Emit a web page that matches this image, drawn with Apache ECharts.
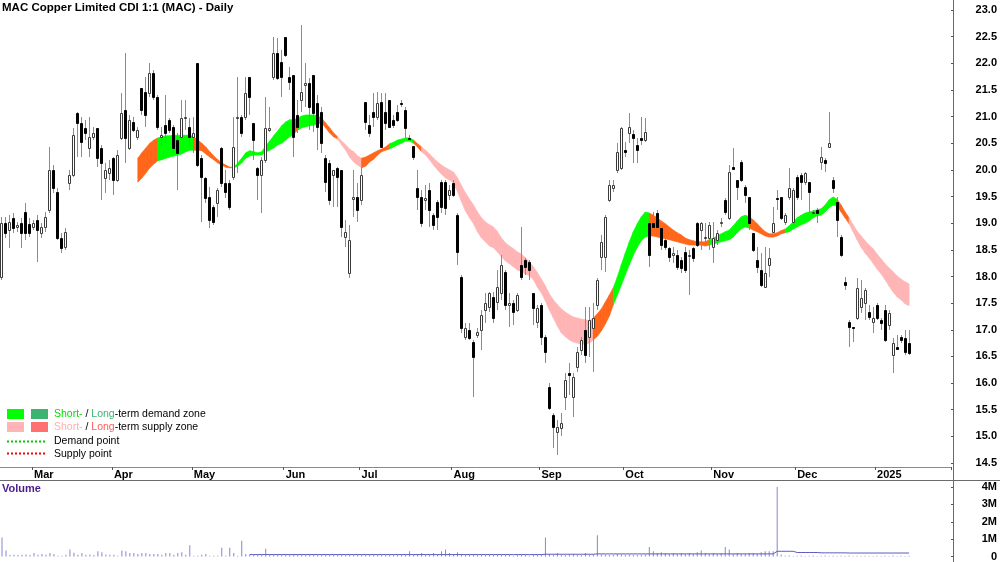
<!DOCTYPE html>
<html>
<head>
<meta charset="utf-8">
<script src="https://cdn.jsdelivr.net/npm/echarts@6/dist/echarts.min.js"></script>
<style>
html,body{margin:0;padding:0;background:#fff;}
#chart{width:1000px;height:562px;}
</style>
</head>
<body>
<div id="chart"></div>
<script>
// ---------- DATA ----------
const chartTitle = 'MAC Copper Limited CDI 1:1 (MAC) - Daily';
const slotCount = 238; // trading-day slots on the time axis (incl. empty right margin)
const monthNames = ['Mar','Apr','May','Jun','Jul','Aug','Sep','Oct','Nov','Dec','2025'];
const monthStart = [8,28,48,71,90,113,135,156,178,199,219];
const priceTicks = [14.5, 23.0, 0.5];   // min, max, step
const volumeTicks = [0, 4, 1];          // millions

const opens = [
17.99,19.00,18.87,19.10,18.93,19.00,19.21,18.99,18.93,19.06,
18.82,18.93,19.25,20.00,19.59,18.72,18.55,19.76,19.91,21.07,
20.88,20.79,20.41,20.62,20.79,20.41,19.85,19.94,20.22,19.81,
20.60,21.12,20.41,20.90,20.62,21.54,21.46,21.44,21.82,21.37,
20.62,20.84,20.94,20.81,20.56,20.62,20.97,20.81,20.62,22.01,
20.22,19.85,19.49,19.30,19.38,20.41,19.76,19.76,19.87,20.97,
20.99,20.99,21.74,20.88,20.04,19.91,20.19,20.75,21.74,22.19,
22.02,22.49,21.74,21.78,21.03,21.31,21.59,21.63,21.78,21.26,
21.09,20.22,20.13,19.91,20.04,20.00,18.74,18.07,19.45,19.49,
19.44,21.27,20.84,21.09,20.99,21.27,21.09,21.31,20.94,21.09,
21.26,21.12,20.60,20.45,19.66,19.49,19.44,19.62,19.15,19.40,
19.77,19.77,19.53,19.76,19.15,17.99,16.87,17.00,16.77,16.90,
17.00,17.37,17.43,17.62,17.52,17.69,18.09,17.47,17.50,17.37,
18.22,18.31,18.27,17.69,17.15,17.47,16.87,15.93,15.40,15.08,
15.16,15.74,16.19,15.74,16.30,16.62,17.00,16.87,17.04,17.47,
18.37,18.37,19.44,19.66,20.00,20.04,20.37,20.69,20.67,20.47,
20.60,20.56,19.00,19.00,19.19,18.91,18.69,18.54,18.40,18.40,
18.31,18.46,18.38,18.54,19.00,18.87,18.72,18.72,18.55,18.69,
19.02,19.44,19.10,20.05,19.81,20.15,19.68,19.49,18.82,18.31,
18.12,17.80,18.22,18.84,19.47,19.49,19.02,19.49,19.02,19.87,
19.91,19.77,19.77,19.19,19.25,20.15,20.19,20.43,19.81,19.40,
18.74,17.90,17.15,17.05,17.22,17.43,17.50,17.33,17.15,17.47,
17.19,17.37,17.09,16.53,16.68,16.87,16.85,16.75];

const closes = [
19.00,18.82,19.02,18.91,18.97,18.82,18.82,18.82,19.00,18.87,
18.93,19.12,20.00,19.66,18.72,18.54,18.84,19.91,20.65,20.88,
20.53,20.69,20.62,20.69,20.22,20.13,20.00,20.04,19.81,20.28,
21.07,20.60,20.94,20.75,20.75,21.12,21.03,21.82,21.37,20.81,
20.65,20.69,20.75,20.41,20.32,20.97,20.99,20.62,20.69,20.09,
19.87,19.47,19.06,19.02,19.62,19.76,19.59,19.30,20.43,20.99,
20.69,21.44,21.37,20.56,19.91,20.19,20.79,20.79,22.19,21.72,
21.74,22.16,21.65,20.62,20.81,21.46,21.63,21.18,21.07,20.81,
20.50,19.77,19.44,20.00,19.87,18.93,18.84,18.69,19.49,19.25,
19.91,20.90,20.69,20.99,21.26,20.43,20.88,20.81,20.84,20.94,
21.25,20.79,20.58,20.24,19.49,19.00,19.47,19.25,18.97,19.12,
19.30,19.28,19.62,19.53,18.46,17.04,17.04,16.85,16.49,16.96,
17.28,17.50,17.69,17.22,17.80,18.22,17.47,17.50,17.33,17.65,
17.99,18.18,18.12,17.41,17.41,16.87,16.59,15.53,15.18,15.18,
15.25,16.06,16.15,16.11,16.59,16.81,16.53,17.19,17.22,17.94,
18.65,19.12,19.72,19.72,20.34,20.79,20.34,20.81,20.60,20.37,
20.56,20.71,18.40,18.93,18.93,18.59,18.55,18.37,18.44,18.18,
18.16,18.12,18.40,18.35,18.59,19.00,18.74,18.97,18.72,18.82,
19.03,19.21,19.96,20.02,19.68,19.81,19.53,19.00,18.50,18.18,
17.84,18.07,18.35,19.00,19.45,19.10,19.15,19.66,19.62,19.49,
19.77,19.94,19.59,19.21,19.19,20.24,20.13,20.50,19.66,19.06,
18.40,17.84,17.05,17.04,17.79,17.60,17.75,17.24,17.22,17.22,
17.13,16.81,17.32,16.75,16.64,16.81,16.59,16.57];

const highs = [
19.12,19.12,19.15,19.19,19.02,19.10,19.38,19.10,19.06,19.15,
19.00,19.21,20.43,20.09,19.66,18.82,18.91,20.00,20.79,21.09,
20.99,20.94,20.99,20.81,20.79,20.47,20.13,20.19,20.24,20.37,
21.44,22.19,21.03,20.99,20.81,21.54,21.74,22.01,21.87,21.41,
20.81,21.41,20.97,20.84,20.69,21.31,21.31,20.97,20.99,22.01,
20.28,19.87,19.68,19.34,19.66,20.43,20.00,19.81,20.99,21.74,
21.03,21.74,21.74,20.88,20.05,20.24,21.37,21.18,22.49,22.47,
22.25,22.49,21.93,21.78,21.31,22.72,22.01,21.72,21.78,21.41,
21.18,20.28,20.19,20.00,20.05,20.00,19.06,18.97,20.00,19.76,
20.05,21.27,21.03,21.44,21.46,21.44,21.44,21.31,21.03,21.22,
21.31,21.18,20.65,20.45,20.00,19.62,19.72,19.76,19.19,19.44,
19.81,19.81,19.72,19.81,19.19,18.03,17.13,17.13,16.81,17.04,
17.37,17.69,17.71,17.71,18.12,18.40,18.12,17.69,17.56,17.69,
18.93,18.35,18.31,17.69,17.47,17.50,16.90,16.00,15.44,15.31,
15.44,16.19,16.38,16.19,16.68,16.87,17.43,17.43,17.50,17.97,
18.78,19.15,19.81,19.81,20.50,20.81,20.52,21.07,20.75,20.60,
20.99,20.97,19.19,19.21,19.25,18.93,18.74,18.55,18.55,18.50,
18.37,18.55,18.50,18.55,19.02,19.02,19.00,19.02,19.02,18.87,
19.10,19.47,20.09,20.41,19.81,20.19,19.72,19.49,18.82,18.55,
18.44,18.55,18.54,19.30,19.62,19.49,19.19,20.04,19.66,19.91,
19.94,19.96,19.77,19.25,19.28,20.43,20.22,21.09,19.87,19.49,
18.78,17.99,17.19,17.05,17.97,17.94,17.79,17.47,17.43,17.50,
17.22,17.47,17.37,16.85,16.90,16.90,17.00,17.00];

const lows = [
17.94,18.72,18.54,18.82,18.84,18.54,18.69,18.74,18.87,18.27,
18.72,18.84,19.19,19.57,18.69,18.44,18.50,19.62,19.87,20.24,
20.24,20.56,20.24,20.56,20.05,19.44,19.57,19.81,19.53,19.77,
20.56,20.13,20.37,20.71,20.56,21.03,20.81,21.37,21.31,20.75,
20.43,20.50,20.69,20.32,19.62,20.56,20.75,20.43,20.32,20.05,
19.02,19.38,18.91,18.97,19.12,19.68,19.47,19.25,19.81,19.94,
20.62,20.94,21.03,20.19,19.44,19.19,20.13,20.71,21.69,21.69,
21.37,22.12,21.50,20.24,20.69,21.09,21.18,20.75,20.71,20.37,
20.32,19.59,19.34,19.30,19.30,18.74,18.55,17.97,19.12,19.02,
19.34,20.75,20.62,20.81,20.94,20.41,20.75,20.79,20.79,20.90,
21.18,20.60,20.54,20.19,19.25,18.93,19.25,18.93,18.87,18.87,
19.19,19.15,19.44,19.49,18.22,16.94,16.81,16.81,15.74,16.85,
16.62,17.13,17.33,17.13,17.37,17.56,17.37,17.05,17.09,17.33,
17.94,18.03,17.94,17.09,17.04,16.72,16.38,15.50,14.78,14.65,
15.00,15.50,15.78,15.37,16.20,16.53,16.38,16.49,16.21,17.37,
18.12,18.09,19.40,19.59,19.94,20.00,20.24,20.50,20.13,20.13,
20.47,20.53,18.18,18.78,18.74,18.50,18.50,18.27,18.25,18.12,
18.07,18.07,17.65,18.27,18.55,18.50,18.59,18.50,18.25,18.59,
18.93,19.15,19.06,20.00,19.44,19.77,19.38,18.87,18.46,18.07,
17.80,17.79,17.99,18.84,19.25,19.06,18.97,19.44,18.97,19.44,
19.44,19.72,19.19,19.15,19.00,20.00,19.96,20.43,19.57,18.74,
18.37,17.75,16.68,16.77,17.19,17.32,17.19,17.19,16.94,17.19,
17.00,16.77,17.00,16.19,16.62,16.75,16.53,16.53];

// volume, millions of shares
const volumes = [
1.10,0.35,0.08,0.10,0.08,0.10,0.12,0.08,0.20,0.10,
0.15,0.10,0.20,0.15,0.05,0.05,0.10,0.40,0.22,0.10,
0.20,0.10,0.12,0.08,0.30,0.25,0.12,0.10,0.10,0.05,
0.35,0.30,0.20,0.20,0.15,0.20,0.20,0.15,0.15,0.15,
0.10,0.20,0.20,0.10,0.20,0.25,0.10,0.65,0.05,0.05,
0.10,0.15,0.05,0.05,0.05,0.50,0.05,0.50,0.20,0.05,
0.90,0.15,0.10,0.10,0.10,0.08,0.45,0.10,0.10,0.12,
0.10,0.12,0.08,0.15,0.10,0.12,0.10,0.10,0.15,0.10,
0.12,0.10,0.08,0.10,0.10,0.12,0.10,0.08,0.10,0.10,
0.10,0.08,0.10,0.12,0.10,0.10,0.08,0.10,0.10,0.10,
0.12,0.10,0.30,0.10,0.15,0.20,0.12,0.10,0.20,0.12,
0.30,0.40,0.20,0.15,0.25,0.15,0.12,0.10,0.15,0.10,
0.10,0.08,0.10,0.08,0.10,0.10,0.08,0.10,0.05,0.08,
0.10,0.08,0.05,0.10,0.08,0.10,1.10,0.15,0.12,0.20,
0.10,0.08,0.12,0.15,0.10,0.08,0.20,0.10,0.12,1.22,
0.12,0.10,0.08,0.10,0.15,0.12,0.10,0.12,0.10,0.08,
0.10,0.12,0.55,0.30,0.20,0.25,0.20,0.15,0.20,0.15,
0.20,0.15,0.20,0.15,0.25,0.35,0.20,0.15,0.20,0.15,
0.20,0.55,0.40,0.15,0.20,0.15,0.15,0.20,0.20,0.15,
0.25,0.30,0.30,0.30,4.00,0.10,0.04,0.06,0.03,0.05,
0.06,0.03,0.05,0.06,0.03,0.05,0.06,0.03,0.05,0.03,
0.05,0.03,0.06,0.03,0.05,0.03,0.05,0.03,0.03,0.05,
0.03,0.05,0.03,0.06,0.03,0.05,0.03,0.05];

// volume average line (millions), starts at index 62
const volAvgStart = 62;
const volAvg = [
0.11,0.11,0.11,0.11,0.11,0.11,0.11,0.11,0.11,0.11,
0.11,0.11,0.11,0.11,0.11,0.11,0.11,0.11,0.11,0.11,
0.11,0.11,0.11,0.11,0.11,0.11,0.11,0.11,0.11,0.11,
0.11,0.11,0.11,0.11,0.11,0.11,0.11,0.11,0.11,0.11,
0.11,0.11,0.11,0.11,0.11,0.11,0.11,0.11,0.11,0.11,
0.11,0.11,0.11,0.11,0.11,0.11,0.11,0.11,0.11,0.11,
0.11,0.11,0.11,0.11,0.11,0.11,0.11,0.11,0.11,0.11,
0.11,0.11,0.11,0.11,0.13,0.13,0.13,0.13,0.13,0.13,
0.13,0.13,0.13,0.13,0.13,0.13,0.13,0.15,0.15,0.15,
0.15,0.15,0.15,0.15,0.15,0.15,0.15,0.15,0.15,0.15,
0.15,0.15,0.15,0.15,0.15,0.15,0.15,0.15,0.15,0.15,
0.15,0.15,0.15,0.15,0.15,0.15,0.15,0.15,0.15,0.15,
0.15,0.15,0.15,0.15,0.15,0.15,0.15,0.15,0.15,0.15,
0.15,0.15,0.30,0.30,0.30,0.30,0.30,0.23,0.23,0.23,
0.23,0.23,0.23,0.21,0.21,0.21,0.21,0.21,0.21,0.21,
0.20,0.20,0.20,0.20,0.20,0.20,0.20,0.20,0.20,0.20,
0.20,0.20,0.20,0.20,0.20,0.20];

// zone band (upper / lower edge, price), starts at index 34
const bandStart = 34;
const bandUpper = [
20.22,20.32,20.41,20.50,20.56,20.60,20.62,20.64,20.64,20.65,
20.65,20.65,20.65,20.65,20.62,20.56,20.50,20.43,20.34,20.26,
20.19,20.13,20.09,20.05,20.05,20.13,20.22,20.32,20.36,20.34,
20.32,20.34,20.45,20.54,20.64,20.73,20.83,20.90,20.94,20.94,
20.97,21.01,21.03,21.03,21.03,21.01,20.97,20.88,20.79,20.69,
20.62,20.54,20.47,20.39,20.34,20.26,20.22,20.24,20.28,20.32,
20.36,20.39,20.43,20.49,20.52,20.56,20.58,20.60,20.60,20.56,
20.49,20.43,20.37,20.30,20.22,20.15,20.09,20.04,20.00,19.96,
19.85,19.70,19.57,19.45,19.34,19.21,19.10,19.02,18.97,18.93,
18.84,18.72,18.63,18.57,18.52,18.46,18.42,18.35,18.27,18.18,
18.07,17.95,17.82,17.67,17.56,17.47,17.39,17.33,17.28,17.24,
17.22,17.20,17.19,17.17,17.22,17.30,17.39,17.52,17.65,17.79,
17.99,18.22,18.44,18.65,18.84,18.99,19.12,19.21,19.19,19.15,
19.10,19.04,18.99,18.93,18.87,18.82,18.78,18.72,18.69,18.67,
18.65,18.65,18.65,18.69,18.72,18.76,18.80,18.84,18.87,18.95,
19.04,19.12,19.15,19.12,19.06,18.99,18.91,18.84,18.80,18.80,
18.82,18.86,18.89,18.95,19.02,19.10,19.15,19.19,19.21,19.23,
19.25,19.27,19.34,19.44,19.49,19.45,19.34,19.21,19.10,18.97,
18.85,18.76,18.67,18.59,18.52,18.42,18.33,18.24,18.16,18.09,
18.01,17.95,17.90,17.86];
const bandLower = [
19.77,19.85,19.94,20.04,20.11,20.17,20.19,20.22,20.24,20.26,
20.28,20.30,20.34,20.37,20.37,20.37,20.36,20.30,20.24,20.19,
20.13,20.09,20.05,20.04,20.04,20.07,20.13,20.22,20.26,20.28,
20.28,20.28,20.34,20.37,20.41,20.47,20.50,20.56,20.62,20.67,
20.75,20.79,20.81,20.83,20.84,20.86,20.88,20.79,20.69,20.62,
20.58,20.47,20.37,20.24,20.15,20.09,20.04,20.07,20.15,20.20,
20.28,20.34,20.37,20.39,20.43,20.47,20.50,20.54,20.54,20.50,
20.43,20.34,20.28,20.19,20.09,20.00,19.92,19.85,19.81,19.76,
19.59,19.40,19.23,19.10,18.99,18.84,18.72,18.65,18.57,18.54,
18.46,18.37,18.29,18.24,18.18,18.12,18.09,18.05,18.01,17.94,
17.80,17.69,17.54,17.37,17.22,17.07,16.94,16.87,16.81,16.77,
16.75,16.73,16.73,16.75,16.81,16.88,16.98,17.11,17.26,17.47,
17.65,17.84,18.03,18.22,18.40,18.55,18.67,18.74,18.76,18.76,
18.74,18.72,18.71,18.69,18.67,18.65,18.63,18.61,18.59,18.59,
18.59,18.59,18.57,18.59,18.61,18.63,18.65,18.67,18.69,18.74,
18.82,18.89,18.93,18.91,18.87,18.84,18.80,18.76,18.74,18.74,
18.76,18.80,18.82,18.84,18.89,18.93,18.97,19.00,19.04,19.10,
19.14,19.15,19.21,19.29,19.34,19.32,19.21,19.10,18.99,18.84,
18.69,18.55,18.44,18.35,18.25,18.14,18.05,17.94,17.82,17.71,
17.62,17.56,17.49,17.45];
// zone type per stretch of the band: [fromIndex, toIndex, zone]
const zoneRuns = [
[34,39,'O'],[40,48,'G'],[49,58,'O'],[59,73,'G'],[74,74,'O'],[75,80,'G'],
[81,84,'O'],[85,90,'P'],[91,97,'O'],[98,103,'G'],[104,105,'O'],[106,148,'P'],
[149,153,'O'],[154,162,'G'],[163,177,'O'],[178,187,'G'],[188,196,'O'],
[197,209,'G'],[210,212,'O'],[213,227,'P']];

// ---------- STYLE ----------
const FONT = '"Liberation Sans", Arial, sans-serif';
const zoneColor = {G:'#00ff00', O:'#ff661a', P:'#ffb5b5'};
function zoneAt(i){
  for (const r of zoneRuns) if (i >= r[0] && i <= r[1]) return r[2];
  return 'P';
}

const categories = Array.from({length: slotCount}, (_, i) => String(i));
const candleData = opens.map((o, i) => [i, o, closes[i], lows[i], highs[i]]);
const bandData = bandUpper.map((u, k) => [bandStart + k, u, bandLower[k]]);
const volAvgData = categories.map((_, i) => {
  const k = i - volAvgStart;
  return (k >= 0 && k < volAvg.length) ? volAvg[k] : null;
});

function renderBand(params, api) {
  const k = params.dataIndex;
  if (k === 0) return null;
  const i = bandStart + k;
  const p0 = api.coord([i - 1, bandUpper[k - 1]]);
  const p1 = api.coord([i, bandUpper[k]]);
  const p2 = api.coord([i, bandLower[k]]);
  const p3 = api.coord([i - 1, bandLower[k - 1]]);
  const col = zoneColor[zoneAt(i)];
  return {type: 'polygon', shape: {points: [p0, p1, p2, p3]},
          style: {fill: col, stroke: col, lineWidth: 0.7}};
}

function renderCandle(params, api) {
  const i = api.value(0), o = api.value(1), c = api.value(2), l = api.value(3), h = api.value(4);
  const po = api.coord([i, o]), pc = api.coord([i, c]);
  const ph = api.coord([i, Math.max(h, o, c)]), pl = api.coord([i, Math.min(l, o, c)]);
  const x = Math.round(po[0] - 0.5);
  const top = Math.round(Math.min(po[1], pc[1]));
  const bot = Math.round(Math.max(po[1], pc[1]));
  const up = c > o;
  return {type: 'group', children: [
    {type: 'line', shape: {x1: x + 0.5, y1: Math.round(ph[1]), x2: x + 0.5, y2: Math.round(pl[1])},
     style: {stroke: '#8c8c8c', lineWidth: 1}},
    {type: 'rect', shape: {x: x - 0.5, y: top + 0.5, width: 2, height: Math.max(bot - top, 1)},
     style: {fill: up ? '#ffffff' : '#000000', stroke: up ? '#3a3a3a' : '#000000', lineWidth: 1}}
  ]};
}

const chart = echarts.init(document.getElementById('chart'), null, {renderer: 'canvas'});
const labelStyle = {fontFamily: FONT, fontSize: 11, fontWeight: 'bold', color: '#000'};

chart.setOption({
  animation: false,
  backgroundColor: '#ffffff',
  grid: [
    {left: 0, right: 47, top: 10, height: 453},
    {left: 0, right: 47, top: 487, height: 70}
  ],
  xAxis: [
    {type: 'category', gridIndex: 0, data: categories, boundaryGap: true, offset: 4,
     axisLine: {show: true, lineStyle: {color: '#8a8a8a', width: 1}},
     axisTick: {show: true, length: 3, interval: (idx) => monthStart.includes(idx),
                lineStyle: {color: '#555'}},
     axisLabel: Object.assign({show: true, align: 'left', margin: 2,
                interval: (idx) => monthStart.includes(idx),
                formatter: (v, idx) => { const m = monthStart.indexOf(idx); return m >= 0 ? monthNames[m] : ''; }},
                labelStyle),
     splitLine: {show: false}},
    {type: 'category', gridIndex: 1, data: categories, boundaryGap: true,
     axisLine: {show: false}, axisTick: {show: false}, axisLabel: {show: false}, splitLine: {show: false}}
  ],
  yAxis: [
    {type: 'value', gridIndex: 0, position: 'right', min: priceTicks[0], max: priceTicks[1], interval: priceTicks[2],
     axisLine: {show: false},
     axisTick: {show: true, length: 3, lineStyle: {color: '#555'}},
     axisLabel: Object.assign({align: 'right', margin: 46, formatter: (v) => v.toFixed(1)}, labelStyle),
     splitLine: {show: false}},
    {type: 'value', gridIndex: 1, position: 'right', min: volumeTicks[0], max: volumeTicks[1], interval: volumeTicks[2],
     axisLine: {show: false},
     axisTick: {show: true, length: 3, lineStyle: {color: '#555'}},
     axisLabel: Object.assign({align: 'right', margin: 46, formatter: (v) => v === 0 ? '0' : v + 'M'}, labelStyle),
     splitLine: {show: false}}
  ],
  series: [
    {name: 'Zone', type: 'custom', xAxisIndex: 0, yAxisIndex: 0, data: bandData,
     encode: {x: 0, y: [1, 2]}, renderItem: renderBand, z: 1, silent: true},
    {name: 'Price', type: 'custom', xAxisIndex: 0, yAxisIndex: 0, data: candleData,
     encode: {x: 0, y: [1, 2, 3, 4]}, renderItem: renderCandle, z: 3, silent: true},
    {name: 'Volume', type: 'bar', xAxisIndex: 1, yAxisIndex: 1, data: volumes,
     barWidth: 1, itemStyle: {color: '#8585d6'}, z: 2, silent: true},
    {name: 'Volume average', type: 'line', xAxisIndex: 1, yAxisIndex: 1, data: volAvgData,
     showSymbol: false, symbol: 'none', lineStyle: {color: '#5b5bbd', width: 1}, z: 3, silent: true}
  ],
  graphic: [
    {type: 'line', shape: {x1: 953.5, y1: 0, x2: 953.5, y2: 562}, style: {stroke: '#6a6a6a', lineWidth: 1}, z: 10},
    {type: 'line', shape: {x1: 0, y1: 480.5, x2: 1000, y2: 480.5}, style: {stroke: '#6a6a6a', lineWidth: 1}, z: 10},
    {type: 'text', left: 2, top: 2, style: {text: chartTitle, font: 'bold 11.5px ' + FONT, fill: '#000'}, z: 10},
    {type: 'text', left: 2, top: 483, style: {text: 'Volume', font: 'bold 11px ' + FONT, fill: '#4b1c8c'}, z: 10},
    // zone key
    {type: 'rect', shape: {x: 7, y: 409, width: 17, height: 10}, style: {fill: '#00ff00'}, z: 10},
    {type: 'rect', shape: {x: 31, y: 409, width: 17, height: 10}, style: {fill: '#3cb371'}, z: 10},
    {type: 'rect', shape: {x: 7, y: 422, width: 17, height: 10}, style: {fill: '#ffb5b5'}, z: 10},
    {type: 'rect', shape: {x: 31, y: 422, width: 17, height: 10}, style: {fill: '#ff7070'}, z: 10},
    {type: 'line', shape: {x1: 7, y1: 441.5, x2: 46, y2: 441.5}, style: {stroke: '#00cc00', lineWidth: 2, lineDash: [2, 2]}, z: 10},
    {type: 'line', shape: {x1: 7, y1: 453.5, x2: 46, y2: 453.5}, style: {stroke: '#ff0000', lineWidth: 2, lineDash: [2, 2]}, z: 10},
    {type: 'text', left: 54, top: 409, z: 10, style: {
      text: '{g|Short-} / {dg|Long}-term demand zone', font: '10.5px ' + FONT, fill: '#000',
      rich: {g: {fill: '#00dd00', font: '10.5px ' + FONT}, dg: {fill: '#3cb371', font: '10.5px ' + FONT}}}},
    {type: 'text', left: 54, top: 422, z: 10, style: {
      text: '{p|Short-} / {r|Long}-term supply zone', font: '10.5px ' + FONT, fill: '#000',
      rich: {p: {fill: '#ffb0b0', font: '10.5px ' + FONT}, r: {fill: '#ff5a5a', font: '10.5px ' + FONT}}}},
    {type: 'text', left: 54, top: 436, z: 10, style: {text: 'Demand point', font: '10.5px ' + FONT, fill: '#000'}},
    {type: 'text', left: 54, top: 449, z: 10, style: {text: 'Supply point', font: '10.5px ' + FONT, fill: '#000'}}
  ]
});
</script>
</body>
</html>
